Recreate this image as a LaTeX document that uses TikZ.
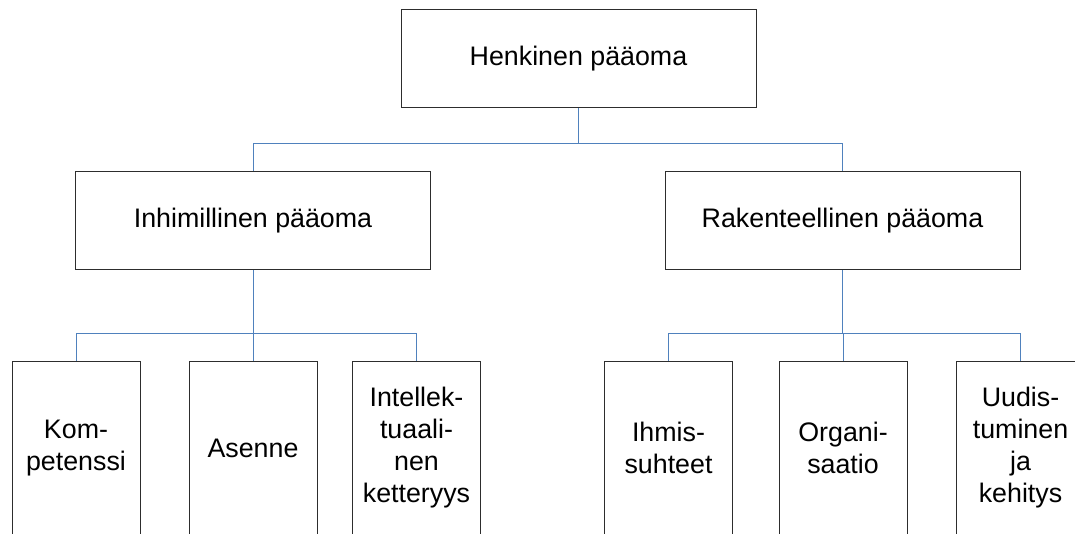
\documentclass[tikz,border=0pt]{standalone}
\usepackage{fontspec}
\setmainfont{Liberation Sans}
\definecolor{linkblue}{RGB}{79,129,189}
\definecolor{boxline}{RGB}{45,45,45}
\tikzset{
  orgbox/.style={draw=boxline, line width=1pt, rectangle, inner sep=0pt,
    align=center, font=\fontsize{26.8}{32}\selectfont, text=black},
  topbox/.style={orgbox, minimum width=355pt, minimum height=98pt},
  midbox/.style={orgbox, minimum width=355pt, minimum height=98pt},
  leafbox/.style={orgbox, minimum width=128pt, minimum height=174pt},
  conn/.style={draw=linkblue, line width=1pt}
}
\begin{document}
\begin{tikzpicture}[x=1pt, y=-1pt]
  \useasboundingbox (0,0) rectangle (1075,534);
  \clip (0,0) rectangle (1075,534);

  % root
  \node[topbox] (root) at (578.5,58.5) {Henkinen pääoma};

  % second level
  \node[midbox] (hum) at (253,221) {Inhimillinen pääoma};
  \node[midbox] (str) at (842.5,221) {Rakenteellinen pääoma};

  % leaves of the human capital branch
  \node[leafbox] (komp) at (76,448) {Kom-\\petenssi};
  \node[leafbox] (asen) at (253,448) {Asenne};
  \node[leafbox] (intel) at (416.5,448) {Intellek-\\tuaali-\\nen\\ketteryys};

  % leaves of the structural capital branch
  \node[leafbox] (ihmis) at (668.5,448) {Ihmis-\\suhteet};
  \node[leafbox] (org) at (843,448) {Organi-\\saatio};
  \node[leafbox] (uud) at (1020.5,448) {Uudis-\\tuminen\\ja\\kehitys};

  % junction points of the connector buses
  \coordinate (j0) at (578.5,144);
  \coordinate (j1) at (253,333);
  \coordinate (j2) at (842.5,333);

  \draw[conn] (root.south) -- (j0);
  \draw[conn] (j0) -| (hum.north);
  \draw[conn] (j0) -| (str.north);

  \draw[conn] (hum.south) -- (j1);
  \draw[conn] (j1) -| (komp.north);
  \draw[conn] (j1) -- (asen.north);
  \draw[conn] (j1) -| (intel.north);

  \draw[conn] (str.south) -- (j2);
  \draw[conn] (j2) -| (ihmis.north);
  \draw[conn] (j2) -| (org.north);
  \draw[conn] (j2) -| (uud.north);
\end{tikzpicture}
\end{document}
